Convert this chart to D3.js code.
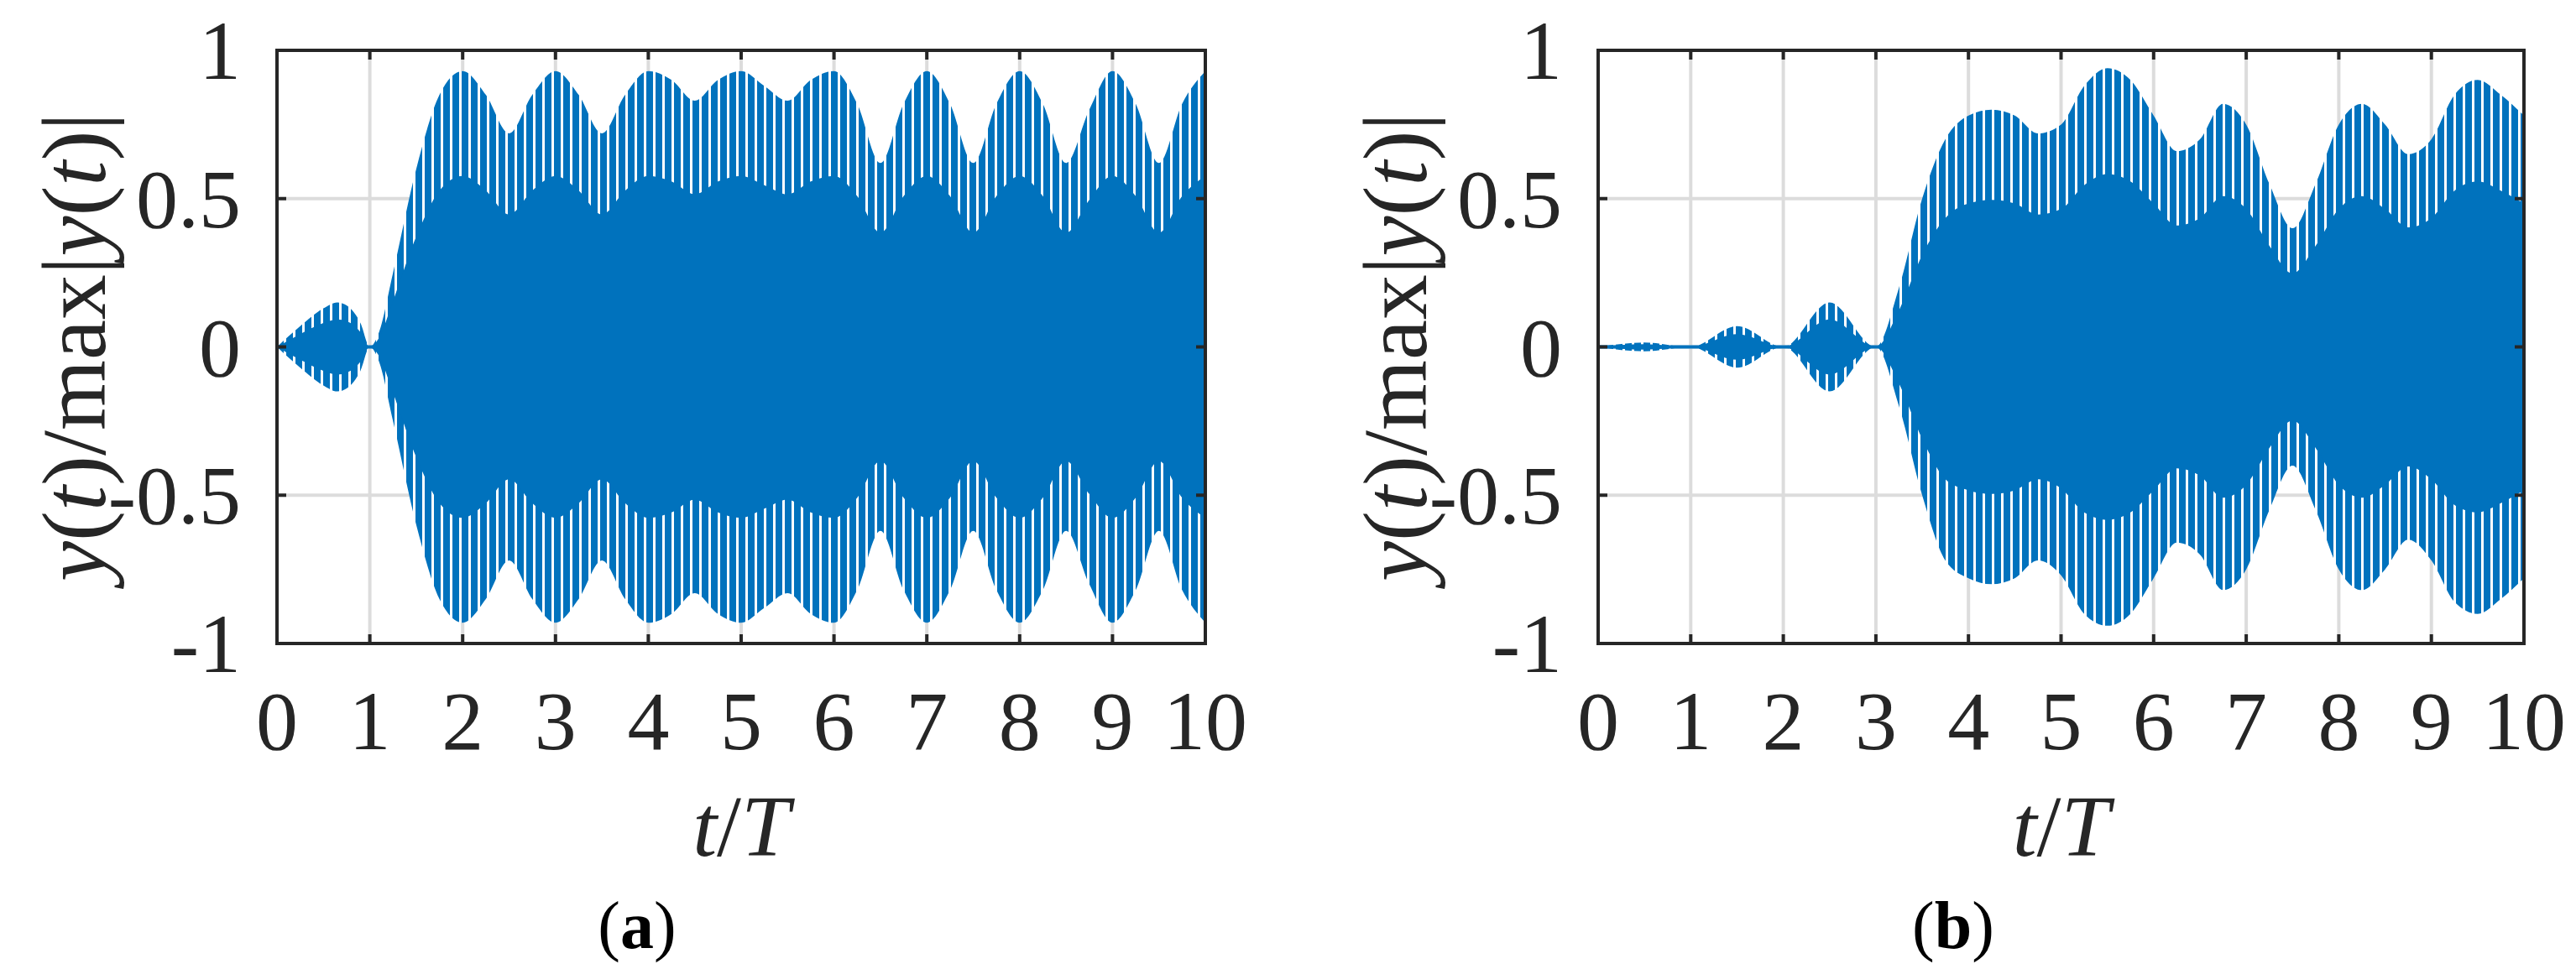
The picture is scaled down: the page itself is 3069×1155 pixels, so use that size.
<!DOCTYPE html>
<html><head><meta charset="utf-8">
<script src="https://cdn.jsdelivr.net/npm/d3@7/dist/d3.min.js"></script>
<style>body{margin:0;background:#fff}</style></head>
<body><svg id="c" width="3069" height="1155"></svg>
<script>
const tA = [0,0.25,0.5,0.65,0.75,0.9,1.0,1.1,1.25,1.5,1.75,2,2.25,2.5,2.75,3,3.25,3.5,3.75,4,4.25,4.5,4.75,5,5.25,5.5,5.75,6,6.25,6.5,6.75,7,7.25,7.5,7.75,8,8.25,8.5,8.75,9,9.25,9.5,9.75,10];
const upA = [0,0.07,0.13,0.15,0.14,0.08,0.0,0.05,0.25,0.6,0.85,0.93,0.85,0.72,0.85,0.93,0.85,0.72,0.85,0.93,0.9,0.83,0.9,0.93,0.88,0.83,0.9,0.93,0.82,0.62,0.82,0.93,0.82,0.62,0.82,0.93,0.82,0.62,0.8,0.93,0.82,0.62,0.82,0.93];
const loA = upA.map(v=>-v);
const tB = [0,0.5,1,1.5,2,2.5,3,3.25,3.5,3.75,4,4.25,4.5,4.75,5,5.25,5.5,5.75,6,6.25,6.5,6.75,7,7.25,7.5,7.75,8,8.25,8.5,8.75,9,9.25,9.5,9.75,10];
const upB = [0,0.015,0.0,0.07,0.0,0.15,0.0,0.2,0.5,0.7,0.78,0.8,0.78,0.72,0.75,0.88,0.94,0.9,0.78,0.66,0.7,0.82,0.75,0.55,0.4,0.55,0.75,0.82,0.75,0.65,0.7,0.85,0.9,0.85,0.78];
const loB = [0,-0.015,0.0,-0.07,0.0,-0.15,0.0,-0.2,-0.5,-0.72,-0.78,-0.8,-0.78,-0.72,-0.77,-0.9,-0.94,-0.9,-0.78,-0.66,-0.7,-0.82,-0.75,-0.55,-0.4,-0.55,-0.75,-0.82,-0.75,-0.65,-0.72,-0.86,-0.9,-0.85,-0.78];
const xTicks = [0,1,2,3,4,5,6,7,8,9,10];
const yTicks = [-1,-0.5,0,0.5,1];
const yTickLabels = ["-1","-0.5","0","0.5","1"];

const svg = d3.select("#c");
const defs = svg.append("defs");
const pat = defs.append("pattern").attr("id","stripes").attr("patternUnits","userSpaceOnUse").attr("width",11).attr("height",20);
pat.append("rect").attr("width",11).attr("height",20).attr("fill","#fff");
pat.append("rect").attr("width",8).attr("height",20).attr("fill","#0072BD");
const FONT = "'Liberation Serif','Times New Roman',serif";
const AX = "#262626";

function panel(L,R,T,B,ts,up,lo,letter,cx){
  const x = d3.scaleLinear().domain([0,10]).range([L,R]);
  const y = d3.scaleLinear().domain([-1,1]).range([B,T]);
  const g = svg.append("g");
  const cid = "clip"+letter;
  defs.append("clipPath").attr("id",cid).append("rect").attr("x",L).attr("y",T).attr("width",R-L).attr("height",B-T);
  // grid
  g.selectAll(".gx").data(xTicks).enter().append("line").attr("x1",d=>x(d)).attr("x2",d=>x(d)).attr("y1",T).attr("y2",B).attr("stroke","#dcdcdc").attr("stroke-width",4);
  g.selectAll(".gy").data(yTicks).enter().append("line").attr("y1",d=>y(d)).attr("y2",d=>y(d)).attr("x1",L).attr("x2",R).attr("stroke","#dcdcdc").attr("stroke-width",4);
  const idx = d3.range(ts.length);
  const outer = d3.area().x(i=>x(ts[i])).y0(i=>y(lo[i])).y1(i=>y(up[i])).curve(d3.curveMonotoneX);
  const inner = d3.area().x(i=>x(ts[i])).y0(i=>y(lo[i]*0.62)).y1(i=>y(up[i]*0.62)).curve(d3.curveMonotoneX);
  const dg = g.append("g").attr("clip-path",`url(#${cid})`);
  dg.append("path").datum(idx).attr("d",outer).attr("fill","url(#stripes)");
  dg.append("path").datum(idx).attr("d",inner).attr("fill","#0072BD");
  dg.append("path").datum(idx).attr("d",d3.line().x(i=>x(ts[i])).y(()=>y(0))).attr("stroke","#0072BD").attr("stroke-width",4);
  // ticks
  xTicks.forEach(d=>{
    g.append("line").attr("x1",x(d)).attr("x2",x(d)).attr("y1",B).attr("y2",B-11).attr("stroke",AX).attr("stroke-width",4);
    g.append("line").attr("x1",x(d)).attr("x2",x(d)).attr("y1",T).attr("y2",T+11).attr("stroke",AX).attr("stroke-width",4);
    g.append("text").attr("x",x(d)).attr("y",893).attr("text-anchor","middle").attr("font-family",FONT).attr("font-size",100).attr("fill",AX).text(d);
  });
  yTicks.forEach((d,i)=>{
    g.append("line").attr("x1",L).attr("x2",L+11).attr("y1",y(d)).attr("y2",y(d)).attr("stroke",AX).attr("stroke-width",4);
    g.append("line").attr("x1",R).attr("x2",R-11).attr("y1",y(d)).attr("y2",y(d)).attr("stroke",AX).attr("stroke-width",4);
    g.append("text").attr("x",L-43).attr("y",y(d)+34).attr("text-anchor","end").attr("font-family",FONT).attr("font-size",100).attr("fill",AX).text(yTickLabels[i]);
  });
  g.append("rect").attr("x",L).attr("y",T).attr("width",R-L).attr("height",B-T).attr("fill","none").attr("stroke",AX).attr("stroke-width",4);
  // x label
  const xl = g.append("text").attr("x",(L+R)/2).attr("y",1020).attr("text-anchor","middle").attr("font-family",FONT).attr("font-size",104).attr("fill",AX).attr("font-style","italic");
  xl.append("tspan").text("t");
  xl.append("tspan").attr("font-style","normal").text("/");
  xl.append("tspan").text("T");
  // y label
  const yl = g.append("text").attr("transform",`translate(${L-205},${(T+B)/2}) rotate(-90)`).attr("text-anchor","middle").attr("font-family",FONT).attr("font-size",108).attr("fill",AX);
  yl.append("tspan").attr("font-style","italic").text("y");
  yl.append("tspan").text("(");
  yl.append("tspan").attr("font-style","italic").text("t");
  yl.append("tspan").text(")/max|");
  yl.append("tspan").attr("font-style","italic").text("y");
  yl.append("tspan").text("(");
  yl.append("tspan").attr("font-style","italic").text("t");
  yl.append("tspan").text(")|");
  // panel letter
  const pl = g.append("text").attr("x",cx).attr("y",1130).attr("text-anchor","middle").attr("font-family",FONT).attr("font-size",80).attr("fill","#000");
  pl.append("tspan").text("(");
  pl.append("tspan").attr("font-weight","bold").text(letter);
  pl.append("tspan").text(")");
}
panel(330,1436,60,767,tA,upA,loA,"a",759);
panel(1904,3007,60,767,tB,upB,loB,"b",2327);
</script></body></html>
